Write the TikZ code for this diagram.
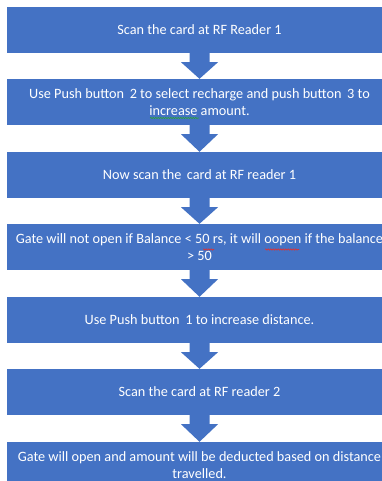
\documentclass[tikz,border=0pt]{standalone}
\usepackage{fontspec}
\setmainfont{Carlito}
\usetikzlibrary{calc,decorations.pathmorphing}
\definecolor{boxblue}{HTML}{4472C4}
\definecolor{spellred}{HTML}{E03030}
\definecolor{gramgreen}{HTML}{30A040}
\newcommand\blockarrow[2]{%
  \fill[boxblue] let \p1=(#1.south), \p2=(#2.north) in
    (\x1-10pt,\y1) -- (\x1+10pt,\y1) -- (\x1+10pt,\y1-9pt) -- (\x1+18.5pt,\y1-9pt)
    -- (\x1,\y2) -- (\x1-18.5pt,\y1-9pt) -- (\x1-10pt,\y1-9pt) -- cycle;}
\begin{document}
\begin{tikzpicture}[x=1pt,y=-1pt]
\tikzset{stepbox/.style={fill=boxblue, text=white, minimum width=385pt, minimum height=46pt,
  inner sep=0pt, align=center, font=\fontsize{14.25}{16.5}\selectfont},
  squiggle/.style={line width=0.6pt, decorate, decoration={snake, segment length=2.5pt, amplitude=0.7pt}}}
\fill[white] (0,0) rectangle (382,481);
\useasboundingbox (0,0) rectangle (382,481);
\clip (0,0) rectangle (382,481);
\node[stepbox] (s1) at (199.5,30) {Scan the card at RF Reader 1};
\node[stepbox] (s2) at (199.5,102) {Use Push button \,2 to select recharge and push button \,3 to\\increase amount.};
\node[stepbox] (s3) at (199.5,175) {Now scan the \,card at RF reader 1};
\node[stepbox] (s4) at (199.5,247) {Gate will not open if Balance < 50 rs, it will oopen if the balance\\> 50};
\node[stepbox] (s5) at (199.5,320) {Use Push button \,1 to increase distance.};
\node[stepbox] (s6) at (199.5,392) {Scan the card at RF reader 2};
\node[stepbox] (s7) at (199.5,465) {Gate will open and amount will be deducted based on distance\\travelled.};
\blockarrow{s1}{s2}
\blockarrow{s2}{s3}
\blockarrow{s3}{s4}
\blockarrow{s4}{s5}
\blockarrow{s5}{s6}
\blockarrow{s6}{s7}
\coordinate (g1) at (150,118); \coordinate (g2) at (199,118);
\draw[squiggle, gramgreen] (g1) -- (g2);
\coordinate (r1) at (203,249.5); \coordinate (r2) at (214,249.5);
\draw[squiggle, spellred] (r1) -- (r2);
\coordinate (r3) at (265,249.5); \coordinate (r4) at (299,249.5);
\draw[squiggle, spellred] (r3) -- (r4);
\end{tikzpicture}
\end{document}
